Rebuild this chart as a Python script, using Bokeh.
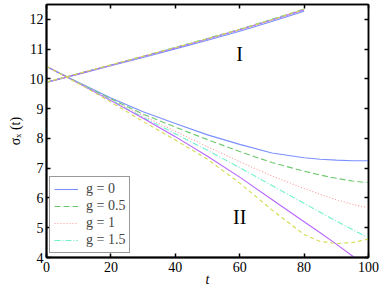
from bokeh.plotting import figure
from bokeh.models import (LinearAxis, Range1d, Legend, LegendItem, Label, FixedTicker,
                          CustomLabelingPolicy)
from bokeh.embed import file_html
from bokeh.resources import INLINE

# ---- data ----
t1 = [0, 10, 20, 30, 40, 50, 60, 70, 80]
reg1 = {
    "g0":   [9.88, 10.16, 10.44, 10.72, 11.01, 11.30, 11.60, 11.93, 12.27],
    "g05":  [9.89, 10.18, 10.47, 10.76, 11.06, 11.36, 11.67, 12.00, 12.35],
    "g1":   [9.89, 10.18, 10.46, 10.75, 11.05, 11.35, 11.66, 11.99, 12.34],
    "g15":  [9.89, 10.18, 10.46, 10.75, 11.05, 11.35, 11.66, 11.99, 12.33],
    "g2":   [9.89, 10.17, 10.46, 10.75, 11.04, 11.34, 11.65, 11.98, 12.32],
    "g25":  [9.89, 10.18, 10.47, 10.76, 11.05, 11.35, 11.66, 11.99, 12.33],
}
t2 = [0, 10, 20, 30, 40, 50, 60, 70, 80, 85, 90, 95, 100]
reg2 = {
    "g0":  [10.42, 9.88, 9.36, 8.90, 8.50, 8.12, 7.80, 7.51, 7.35, 7.30, 7.27, 7.25, 7.25],
    "g05": [10.42, 9.87, 9.33, 8.82, 8.38, 7.96, 7.56, 7.19, 6.90, 6.77, 6.66, 6.57, 6.51],
    "g1":  [10.42, 9.86, 9.31, 8.76, 8.24, 7.72, 7.22, 6.74, 6.32, 6.12, 5.94, 5.79, 5.66],
    "g15": [10.42, 9.86, 9.29, 8.71, 8.16, 7.60, 7.02, 6.42, 5.82, 5.52, 5.22, 4.94, 4.66],
    "g2":  [10.42, 9.85, 9.27, 8.68, 8.06, 7.40, 6.70, 5.95, 5.20, 4.83, 4.45, 4.05, 3.65],
    "g25": [10.42, 9.84, 9.22, 8.57, 7.95, 7.30, 6.50, 5.60, 4.77, 4.54, 4.47, 4.50, 4.62],
}
legend_labels = ["g = 0", "g = 0.5", "g = 1", "g = 1.5"]
x_ticks = [0, 20, 40, 60, 80, 100]
y_ticks = [4, 5, 6, 7, 8, 9, 10, 11, 12]
region_labels = ["I", "II"]

keys = ["g0", "g05", "g1", "g15", "g2", "g25"]
colors = ["#7b90ff", "#6cc86c", "#ff9a9a", "#6ff0cc", "#b866ff", "#d4dc50"]
dashes = ["solid", "6 3", "1 2", "6 2 1 2", "solid", "4 3"]

FONT = "Liberation Serif"

p = figure(width=381, height=289, output_backend="svg", toolbar_location=None,
           x_range=Range1d(0, 100), y_range=Range1d(4, 12.5),
           min_border_left=46, min_border_right=13, min_border_top=3, min_border_bottom=32)
p.grid.visible = False
p.outline_line_color = "black"
p.outline_line_width = 1.5
p.background_fill_color = "white"
p.border_fill_color = "white"

renderers = []
for k, c, d in zip(keys, colors, dashes):
    r2 = p.line(t2, reg2[k], line_color=c, line_width=1.1, line_dash=d)
    p.line(t1, reg1[k], line_color=c, line_width=1.1, line_dash=d)
    renderers.append(r2)

for ax in (p.xaxis[0], p.yaxis[0]):
    ax.axis_line_width = 2
    ax.axis_line_color = "black"
    ax.major_tick_in = 4
    ax.major_tick_out = 0
    ax.minor_tick_in = 0
    ax.minor_tick_out = 0
    ax.major_tick_line_width = 1.5
    ax.major_label_text_font = FONT
    ax.major_label_text_font_size = "14px"
    ax.major_label_text_color = "black"
    ax.axis_label_text_font = FONT
    ax.axis_label_text_color = "black"
    ax.axis_label_text_font_size = "14px"

p.xaxis[0].ticker = FixedTicker(ticks=x_ticks)
p.yaxis[0].ticker = FixedTicker(ticks=y_ticks)
p.xaxis[0].major_label_standoff = 4
p.yaxis[0].major_label_standoff = 3
p.xaxis[0].axis_label = "t"
p.xaxis[0].axis_label_text_font_style = "italic"
p.xaxis[0].axis_label_standoff = -3
p.yaxis[0].axis_label = "σₓ (t)"
p.yaxis[0].axis_label_text_font_style = "normal"
p.yaxis[0].axis_label_standoff = 4

hide_all = CustomLabelingPolicy(code="""
for (const i of indices) {
    indices.unset(i)
}
return indices
""")
top = LinearAxis(ticker=FixedTicker(ticks=x_ticks))
right = LinearAxis(ticker=FixedTicker(ticks=y_ticks))
for ax in (top, right):
    ax.major_label_policy = hide_all
    ax.major_label_text_font_size = "1px"
    ax.major_label_standoff = 0
    ax.axis_label_standoff = 0
    ax.major_tick_in = 4
    ax.major_tick_out = 0
    ax.minor_tick_in = 0
    ax.minor_tick_out = 0
    ax.axis_line_color = "black"
    ax.axis_line_width = 1.5
    ax.major_tick_line_width = 1.5
p.add_layout(top, "above")
p.add_layout(right, "right")

items = [LegendItem(label=lab, renderers=[r]) for lab, r in zip(legend_labels, renderers[:4])]
legend = Legend(items=items, location=(3, 4))
legend.label_text_font = FONT
legend.label_text_font_size = "14px"
legend.label_height = 14
legend.glyph_height = 14
legend.glyph_width = 24
legend.spacing = 1
legend.padding = 4
legend.margin = 0
legend.border_line_color = "#333333"
legend.border_line_width = 1
legend.label_standoff = 8
p.add_layout(legend, "center")

p.add_layout(Label(x=60, y=10.85, text=region_labels[0], text_font=FONT, text_font_size="20px",
                   text_align="center", text_baseline="middle", text_color="black"))
p.add_layout(Label(x=60, y=5.35, text=region_labels[1], text_font=FONT, text_font_size="20px",
                   text_align="center", text_baseline="middle", text_color="black"))

open("out.html", "w").write(file_html(p, INLINE))
